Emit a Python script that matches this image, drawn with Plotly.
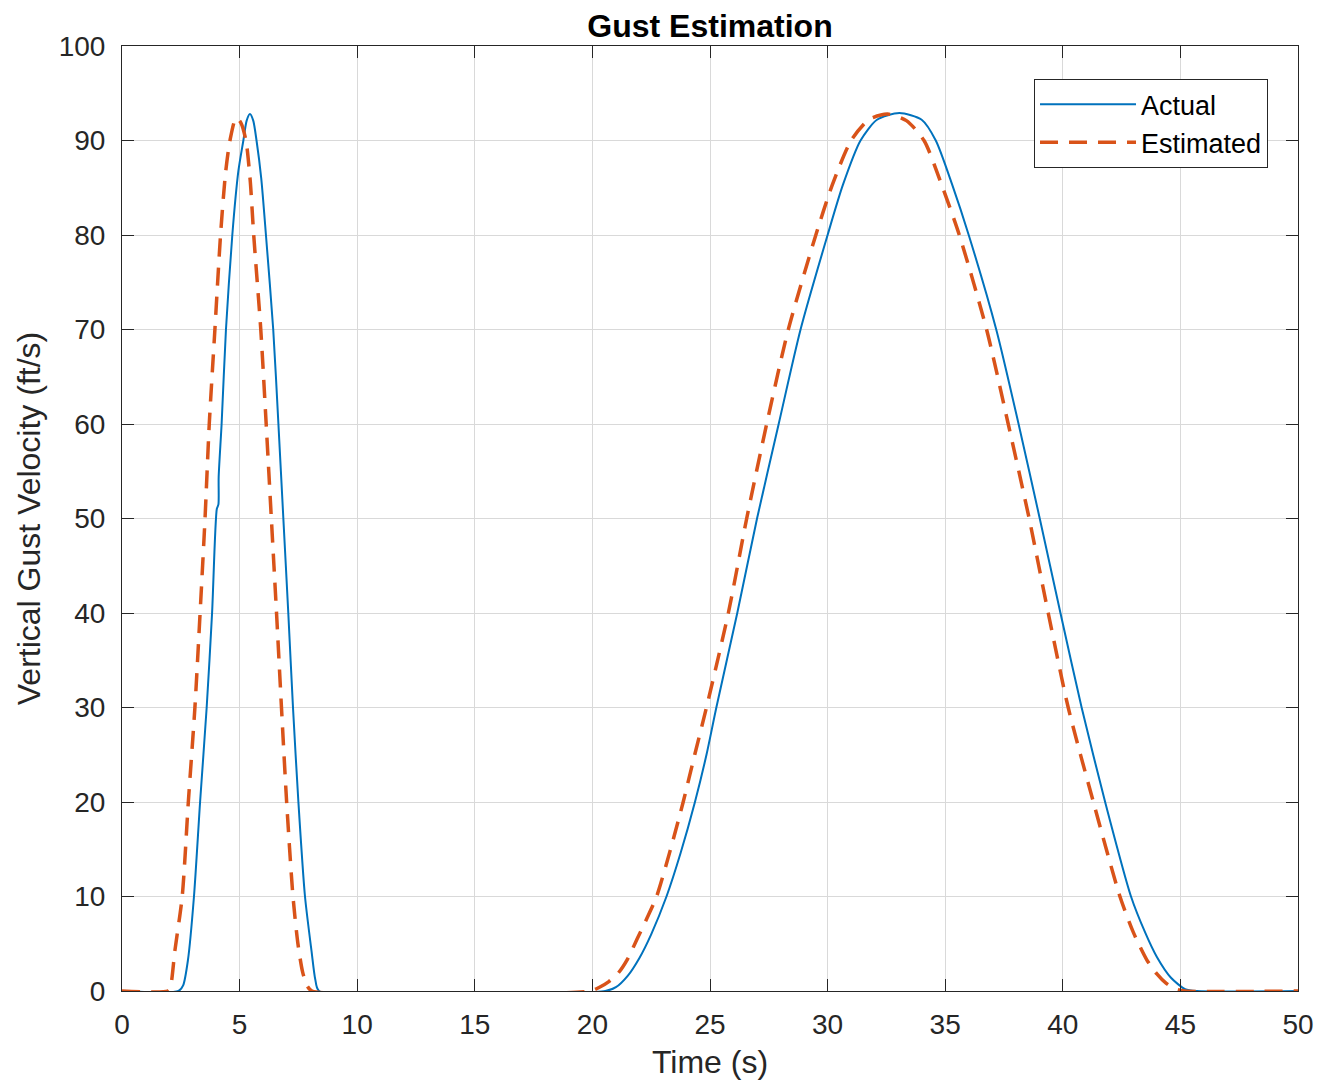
import plotly.graph_objects as go

# ---- data ----
actual_t = [0, 2.40, 2.60, 2.80, 3.06, 3.32, 3.60, 3.83, 4.03, 4.10, 4.11, 4.235, 4.42, 4.69,
            4.95, 5.16, 5.30, 5.44, 5.58, 5.72, 5.92, 6.12, 6.43, 6.65, 6.86, 7.07, 7.27,
            7.50, 7.78, 8.06, 8.22, 8.38, 20.55, 21.00, 21.50, 22.00, 22.50, 23.15, 23.75,
            24.36, 24.85, 25.27, 26.16, 27.00, 27.92, 28.85, 30.00, 30.65, 31.40, 32.10,
            33.05, 34.00, 34.60, 35.30, 36.00, 37.17, 38.12, 39.02, 39.90, 40.80, 41.80,
            42.90, 43.50, 44.00, 44.60, 45.20, 45.70, 50.0]
actual_v = [0, 0, 0.6, 3.2, 10, 20, 30, 40, 51, 51.5, 54.4, 60, 70, 80,
            86.8, 90, 92.1, 92.8, 92.1, 90, 86, 80, 70, 60, 50, 40, 30,
            20, 10, 4.2, 1.2, 0, 0, 0.4, 1.6, 3.5, 6.0, 10, 14.6,
            20, 25, 30, 40, 50, 60, 70, 80, 85.3, 90, 92.2,
            92.9, 92.2, 90, 85.3, 80, 70, 60, 50, 40, 30, 20,
            10, 6.2, 3.6, 1.4, 0.2, 0, 0]

est_t = [0, 1.95, 2.05, 2.25, 2.56, 2.82, 3.10, 3.32, 3.53, 3.71, 3.95, 4.19, 4.40, 4.59,
         4.85, 5.05, 5.27, 5.45, 5.60, 5.90, 6.13, 6.35, 6.57, 6.78, 7.00, 7.27, 7.48,
         7.68, 7.88, 8.08, 19.90, 20.30, 20.70, 21.10, 21.50, 21.90, 22.30, 22.73, 23.30,
         23.86, 24.35, 24.85, 25.78, 26.56, 27.41, 28.33, 29.50, 30.20, 31.00, 31.75,
         32.55, 33.35, 34.10, 34.85, 35.60, 36.76, 37.68, 38.57, 39.38, 40.23, 41.30,
         42.43, 43.00, 43.57, 44.00, 44.40, 44.80, 45.20, 50.0]
est_v = [0, 0, 0.3, 4.3, 10, 20, 30, 40, 50, 60, 70, 80, 86.5, 90,
         92.4, 91.9, 90, 85.8, 80, 70, 60, 50, 40, 30, 20, 10, 5,
         2, 0.5, 0, 0, 0.4, 1.0, 1.9, 3.4, 5.5, 7.6, 10, 14.8,
         20, 25, 30, 40, 50, 60, 70, 80, 85.3, 90, 92.2,
         92.8, 92.1, 90, 85.3, 80, 70, 60, 50, 40, 30, 20,
         10, 6.2, 3.3, 1.8, 0.8, 0.2, 0, 0]

x_ticks = [0, 5, 10, 15, 20, 25, 30, 35, 40, 45, 50]
y_ticks = [0, 10, 20, 30, 40, 50, 60, 70, 80, 90, 100]

FONT = "Liberation Sans, Arial, Helvetica, sans-serif"
AX = "#262626"

fig = go.Figure()
fig.add_trace(go.Scatter(x=actual_t, y=actual_v, mode="lines", name="Actual",
                         line=dict(color="#0072BD", width=2, shape="spline", smoothing=0.7)))
fig.add_trace(go.Scatter(x=est_t, y=est_v, mode="lines", name="Estimated",
                         line=dict(color="#D95319", width=3.5, dash="18px,11px",
                                   shape="spline", smoothing=0.7)))

axis_common = dict(showline=True, linecolor=AX, linewidth=1, mirror="ticks",
                   ticks="inside", ticklen=12, tickcolor=AX, tickwidth=1,
                   showgrid=True, gridcolor="#d9d9d9", gridwidth=1, zeroline=False,
                   automargin=False,
                   tickfont=dict(family=FONT, size=28, color=AX))

fig.update_xaxes(range=[0, 50], tickvals=x_ticks, ticktext=[str(v) for v in x_ticks],
                 title=dict(text="Time (s)", font=dict(family=FONT, size=32, color=AX), standoff=12),
                 ticklabelstandoff=8, **axis_common)
fig.update_yaxes(range=[0, 100], tickvals=y_ticks, ticktext=[str(v) for v in y_ticks],
                 title=dict(text="Vertical Gust Velocity (ft/s)", font=dict(family=FONT, size=32, color=AX), standoff=8),
                 ticklabelstandoff=10, **axis_common)

fig.update_layout(
    width=1317, height=1084, autosize=False,
    margin=dict(l=122, r=19, t=46, b=93),
    paper_bgcolor="white", plot_bgcolor="white",
    title=dict(text="<b>Gust Estimation</b>", x=0.5, xref="paper", xanchor="center",
               y=1 - 26 / 1084, yanchor="middle",
               font=dict(family=FONT, size=32, color="black")),
    legend=dict(x=0.9745, xanchor="right", y=0.965, yanchor="top",
                bgcolor="white", bordercolor=AX, borderwidth=1,
                font=dict(family=FONT, size=27, color="black"),
                itemwidth=96, tracegroupgap=0),
    showlegend=True,
)

fig.write_html("out.html", config={"displayModeBar": False},
               post_script="document.body.style.margin='0';")
